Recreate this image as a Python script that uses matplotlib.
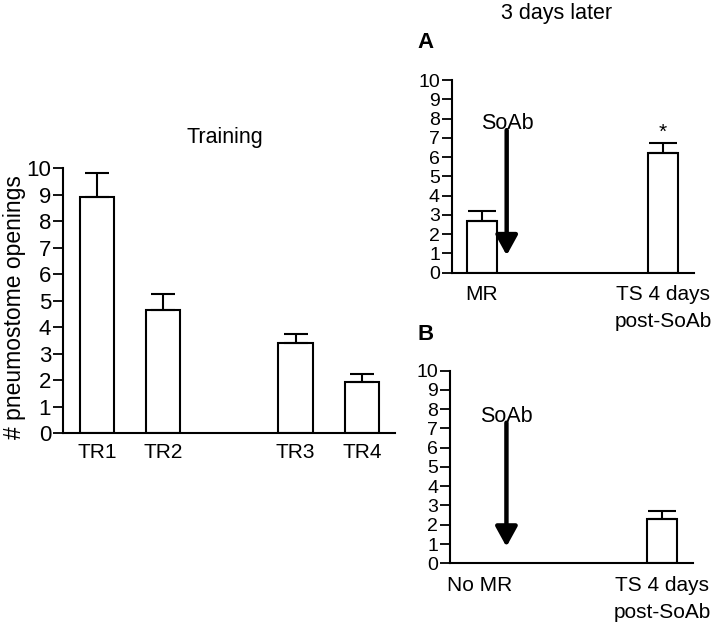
import matplotlib
matplotlib.use('Agg')
import matplotlib.pyplot as plt

plt.rcParams['font.family'] = ['Liberation Sans', 'DejaVu Sans']

# 训练阶段数据
train_labels = ['TR1', 'TR2', 'TR3', 'TR4']
train_pos = [1, 2, 4, 5]
train_mean = [8.92, 4.63, 3.41, 1.94]
train_sem = [0.88, 0.62, 0.33, 0.29]

# 3 天后 (A)
a_labels = ['MR', 'TS 4 days\npost-SoAb']
a_mean = [2.68, 6.23]
a_sem = [0.52, 0.48]

# 3 天后 (B)
b_labels = ['No MR', 'TS 4 days\npost-SoAb']
b_mean = [2.30]
b_sem = [0.43]

fig = plt.figure(figsize=(7.2, 6.26), dpi=100)


def style_axes(ax, fs_tick, fs_x):
    ax.set_ylim(0, 10)
    ax.set_yticks(range(0, 11))
    for s in ['top', 'right']:
        ax.spines[s].set_visible(False)
    for s in ['left', 'bottom']:
        ax.spines[s].set_linewidth(1.5)
    ax.tick_params(axis='y', direction='out', length=7, width=1.3,
                   labelsize=fs_tick, pad=1.5)
    ax.tick_params(axis='x', length=0, labelsize=fs_x, pad=9)


# 左图: Training
ax1 = fig.add_axes([0.0875, 0.3083, 0.4611, 0.4233])
ax1.bar(train_pos, train_mean, width=0.52, color='white',
        edgecolor='black', linewidth=1.5)
ax1.errorbar(train_pos, train_mean, yerr=[[0] * 4, train_sem], fmt='none',
             ecolor='black', elinewidth=1.5, capsize=8.5, capthick=1.5)
ax1.set_xlim(0.49, 5.5)
style_axes(ax1, 16, 15)
ax1.set_xticks(train_pos)
ax1.set_xticklabels(train_labels)
ax1.tick_params(axis='x', pad=7)
ax1.set_ylabel('# pneumostome openings', fontsize=16.5)
ax1.yaxis.set_label_coords(-0.112, 0.475)
fig.text(225 / 720, 1 - 138 / 626, 'Training', fontsize=15.5,
         ha='center', va='center')

# 右上: A
axA = fig.add_axes([0.6274, 0.5644, 0.3365, 0.3078])
axA.bar([0, 1], a_mean, width=0.165, color='white',
        edgecolor='black', linewidth=1.5)
axA.errorbar([0, 1], a_mean, yerr=[[0, 0], a_sem], fmt='none',
             ecolor='black', elinewidth=1.5, capsize=10, capthick=1.5)
axA.set_xlim(-0.165, 1.171)
style_axes(axA, 14, 15)
axA.set_xticks([0, 1])
axA.set_xticklabels(a_labels, linespacing=1.55, va='top')
axA.annotate('', xy=(0.138, 0.9), xytext=(0.138, 7.4),
             arrowprops=dict(arrowstyle='-|>,head_length=0.6,head_width=0.33',
                             lw=3.2, color='black', mutation_scale=20,
                             shrinkA=0, shrinkB=0))
axA.text(0.14, 7.45, 'SoAb', fontsize=15.5, ha='center', va='baseline')
axA.text(1, a_mean[1] + a_sem[1] + 0.3, '*', fontsize=15,
         ha='center', va='baseline')
fig.text(426 / 720, 1 - 43 / 626, 'A', fontsize=16, fontweight='bold',
         ha='center', va='center')
fig.text(557 / 720, 1 - 13 / 626, '3 days later', fontsize=15.5,
         ha='center', va='center')

# 右下: B
axB = fig.add_axes([0.625, 0.1002, 0.3378, 0.3077])
axB.bar([1], b_mean, width=0.165, color='white',
        edgecolor='black', linewidth=1.5)
axB.errorbar([1], b_mean, yerr=[[0], b_sem], fmt='none',
             ecolor='black', elinewidth=1.5, capsize=10, capthick=1.5)
axB.set_xlim(-0.165, 1.171)
style_axes(axB, 14, 15)
axB.set_xticks([0, 1])
axB.set_xticklabels(b_labels, linespacing=1.55, va='top')
axB.annotate('', xy=(0.145, 0.86), xytext=(0.145, 7.3),
             arrowprops=dict(arrowstyle='-|>,head_length=0.6,head_width=0.33',
                             lw=3.2, color='black', mutation_scale=20,
                             shrinkA=0, shrinkB=0))
axB.text(0.145, 7.35, 'SoAb', fontsize=15.5, ha='center', va='baseline')
fig.text(426 / 720, 1 - 335 / 626, 'B', fontsize=16, fontweight='bold',
         ha='center', va='center')

fig.savefig('out.png', dpi=100)
